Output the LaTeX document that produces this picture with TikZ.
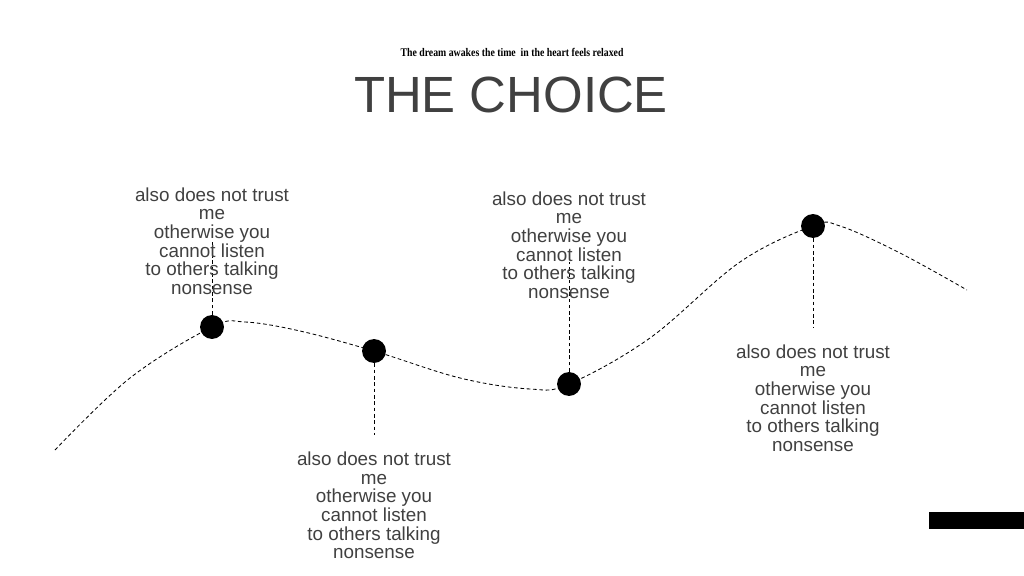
\documentclass[tikz,border=0pt]{standalone}
\usepackage{fontspec}
\setmainfont{Liberation Sans}
\newfontfamily\subfont{Liberation Serif}
\definecolor{txt}{HTML}{404040}
\begin{document}
\begin{tikzpicture}[x=0.025cm,y=-0.025cm,
  dashline/.style={draw=black,line width=0.6pt,dash pattern=on 2.6pt off 1.9pt},
  dot/.style={circle,fill=black,minimum size=17pt,inner sep=0pt},
  lbl/.style={text=txt,align=center,font=\fontsize{13.4}{13.2}\selectfont,inner sep=0pt}]
\useasboundingbox (0,0) rectangle (1024,576);
% curve
\draw[dashline] plot[smooth,tension=0.6] coordinates {(55,450) (130,378) (212,327) (245,322) (300,331) (374,351) (460,378) (530,389) (569,384) (650,338) (740,262) (813,226) (840,226) (900,253) (967,290)};
% dots
\node[dot] (d1) at (212,327) {};
\node[dot] (d2) at (374,351) {};
\node[dot] (d3) at (569,384) {};
\node[dot] (d4) at (813,226) {};
\coordinate (e1) at (212,240);
\coordinate (e2) at (374,435);
\coordinate (e3) at (569,262);
\coordinate (e4) at (813,328);
\draw[dashline] (d1) -- (e1);
\draw[dashline] (d2) -- (e2);
\draw[dashline] (d3) -- (e3);
\draw[dashline] (d4) -- (e4);
% labels
\node[lbl] (t1) at (212,241) {also does not trust\\me\\otherwise you\\cannot listen\\to others talking\\nonsense};
\node[lbl] (t2) at (374,505.5) {also does not trust\\me\\otherwise you\\cannot listen\\to others talking\\nonsense};
\node[lbl] (t3) at (569,245) {also does not trust\\me\\otherwise you\\cannot listen\\to others talking\\nonsense};
\node[lbl] (t4) at (813,398) {also does not trust\\me\\otherwise you\\cannot listen\\to others talking\\nonsense};
% title
\node[text=txt,font=\fontsize{36.2}{40}\selectfont,inner sep=0pt] (title) at (511,95) {THE CHOICE};
\node[inner sep=0pt] (sub) at (512,52) {\scalebox{0.84}[1]{\subfont\bfseries\fontsize{8.3}{9}\selectfont The dream awakes the time \ in the heart feels relaxed}};
% black bar
\fill[black] (929,512) rectangle (1024,529);
\end{tikzpicture}
\end{document}
